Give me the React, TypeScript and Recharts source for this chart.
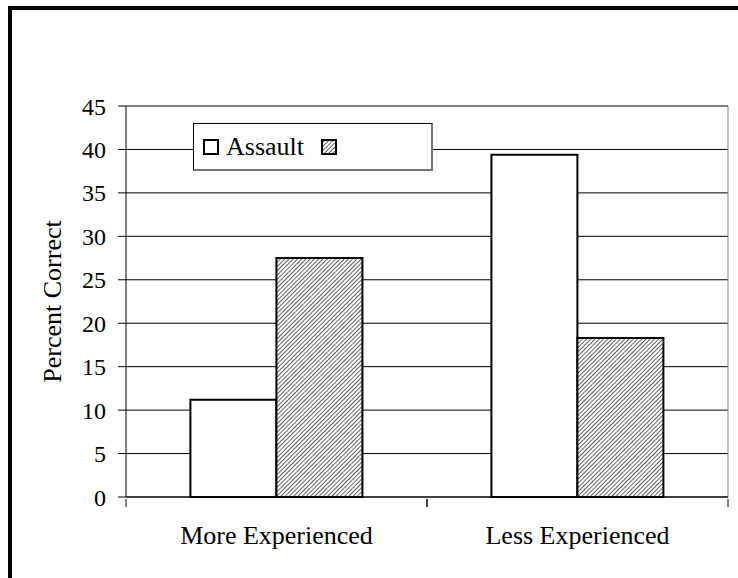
import {
  Bar,
  BarChart,
  CartesianGrid,
  Label,
  Legend,
  XAxis,
  YAxis,
} from "recharts";

const groups = ["More Experienced", "Less Experienced"];
const assaultPct = [11.2, 39.4];
const otherPct = [27.5, 18.3];
const yTicks = [0, 5, 10, 15, 20, 25, 30, 35, 40, 45];

const serif = '"Liberation Serif", "Times New Roman", serif';

const data = groups.map((name, i) => ({
  name,
  assault: assaultPct[i],
  other: otherPct[i],
}));

const seriesOrder = ["assault", "other"];

function LegendBox({ payload }: { payload?: any[] }) {
  const items = [...(payload ?? [])].sort(
    (a, b) => seriesOrder.indexOf(a.dataKey) - seriesOrder.indexOf(b.dataKey),
  );
  return (
    <div
      style={{
        boxSizing: "border-box",
        width: 240,
        height: 48,
        background: "#fff",
        borderTop: "1px solid #000",
        borderLeft: "1px solid #000",
        borderRight: "2px solid #777",
        borderBottom: "2px solid #777",
        display: "flex",
        alignItems: "center",
        paddingLeft: 9,
        fontFamily: serif,
        fontSize: 26,
        lineHeight: 1,
        color: "#000",
      }}
    >
      {items.map((entry, i) => (
        <div
          key={i}
          style={{ display: "flex", alignItems: "center", marginLeft: i ? 17 : 0 }}
        >
          <svg width={16} height={16} style={{ display: "block" }}>
            <rect
              x={1}
              y={1}
              width={14}
              height={14}
              fill={entry.color}
              stroke="#000"
              strokeWidth={2}
            />
          </svg>
          {entry.value ? <span style={{ marginLeft: 7 }}>{entry.value}</span> : null}
        </div>
      ))}
    </div>
  );
}

// group label plus short marks at both edges of the group's band
function GroupTick({ x, y, payload }: any) {
  const half = payload.offset ?? 0;
  return (
    <g>
      <line x1={x - half} y1={y} x2={x - half} y2={y + 8} stroke="#000" />
      <line x1={x + half} y1={y} x2={x + half} y2={y + 8} stroke="#000" />
      <text
        x={x}
        y={y + 27}
        dy="0.71em"
        textAnchor="middle"
        fontSize={26}
        fontFamily={serif}
        fill="#000"
      >
        {payload.value}
      </text>
    </g>
  );
}

export default function App() {
  return (
    <div
      style={{
        position: "absolute",
        left: 0,
        top: 0,
        width: 738,
        height: 578,
        overflow: "hidden",
        background: "#fff",
      }}
    >
      {/* heavy frame round the figure, open on the right and bottom */}
      <div
        style={{
          position: "absolute",
          left: 8,
          top: 6,
          width: 800,
          height: 700,
          borderTop: "4px solid #000",
          borderLeft: "4px solid #000",
        }}
      />
      <div style={{ position: "absolute", left: 0, top: 0 }}>
        <BarChart
          width={738}
          height={578}
          data={data}
          margin={{ top: 106, right: 10, bottom: 51, left: 26 }}
          barCategoryGap="21.4%"
          barGap={0}
        >
          <defs>
            <pattern
              id="hatch"
              patternUnits="userSpaceOnUse"
              width={3}
              height={3}
              patternTransform="rotate(45)"
            >
              <rect width={3} height={3} fill="#fff" />
              <line x1={0} y1={0} x2={0} y2={3} stroke="#2a2a2a" strokeWidth={1.5} />
            </pattern>
          </defs>
          <CartesianGrid vertical={false} stroke="#000" strokeWidth={1} />
          {/* thin grey edge on the right of the plot */}
          <CartesianGrid
            horizontal={false}
            stroke="#808080"
            verticalCoordinatesGenerator={({ offset }: any) => [
              offset.left + offset.width,
            ]}
          />
          <XAxis
            dataKey="name"
            height={30}
            axisLine={{ stroke: "#000" }}
            tickLine={false}
            tickSize={0}
            tick={<GroupTick />}
          />
          <YAxis
            domain={[0, 45]}
            ticks={yTicks}
            width={100}
            axisLine={{ stroke: "#000" }}
            tickLine={{ stroke: "#000" }}
            tickSize={8}
            tickMargin={12}
            tick={{ fill: "#000", fontSize: 24, fontFamily: serif }}
          >
            <Label
              content={({ viewBox }: any) => (
                <text
                  x={viewBox.x + 35}
                  y={viewBox.y + viewBox.height / 2}
                  transform={`rotate(-90 ${viewBox.x + 35} ${viewBox.y + viewBox.height / 2})`}
                  textAnchor="middle"
                  fontSize={26}
                  fontFamily={serif}
                  fill="#000"
                >
                  Percent Correct
                </text>
              )}
            />
          </YAxis>
          <Legend
            layout="horizontal"
            align="center"
            verticalAlign="middle"
            wrapperStyle={{ left: 193, top: 123, width: 240, height: 48 }}
            content={<LegendBox />}
          />
          <Bar
            dataKey="assault"
            name="Assault"
            fill="#fff"
            stroke="#000"
            strokeWidth={2}
            isAnimationActive={false}
          />
          <Bar
            dataKey="other"
            name=""
            fill="url(#hatch)"
            stroke="#000"
            strokeWidth={2}
            isAnimationActive={false}
          />
        </BarChart>
      </div>
    </div>
  );
}
